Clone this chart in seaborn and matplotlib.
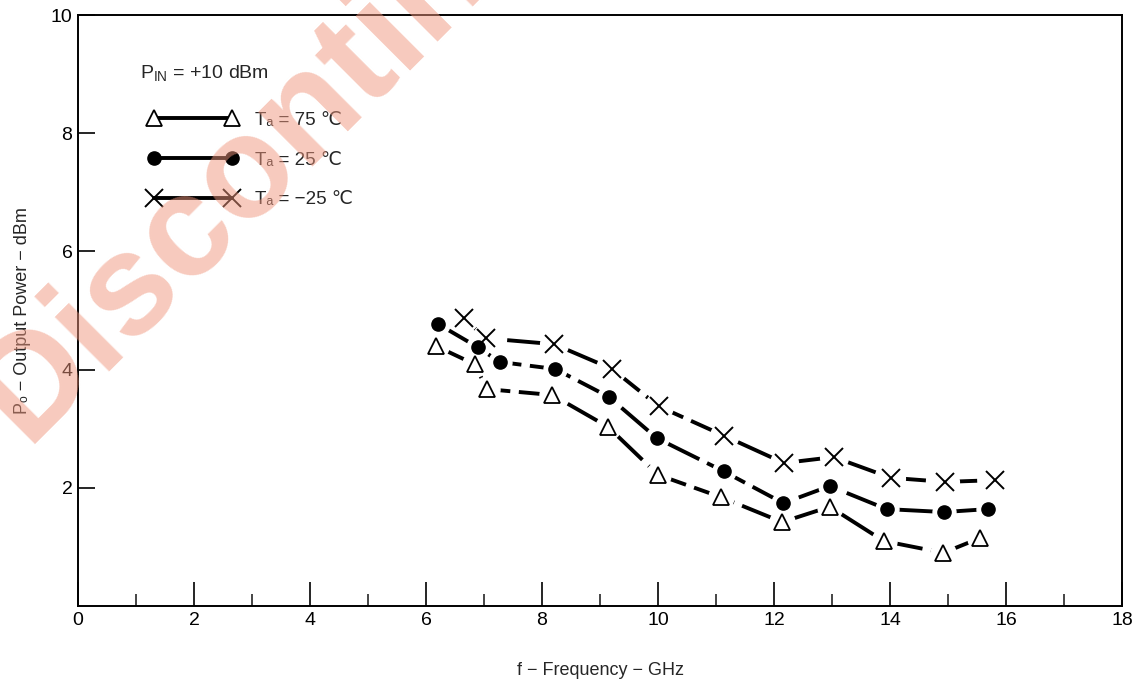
import matplotlib
matplotlib.use("Agg")
import matplotlib.pyplot as plt
from matplotlib.lines import Line2D
from matplotlib.ticker import MultipleLocator
import pandas as pd
import seaborn as sns

# values
freq_75 = [6.17, 6.84, 7.05, 8.18, 9.14, 10.0, 11.09, 12.14, 12.96, 13.89, 14.92, 15.55]
pout_75 = [4.40, 4.09, 3.67, 3.57, 3.03, 2.22, 1.84, 1.42, 1.68, 1.10, 0.90, 1.15]

freq_25 = [6.21, 6.89, 7.27, 8.23, 9.15, 9.98, 11.13, 12.16, 12.96, 13.94, 14.93, 15.69]
pout_25 = [4.77, 4.38, 4.13, 4.01, 3.54, 2.84, 2.28, 1.74, 2.03, 1.64, 1.59, 1.64]

freq_m25 = [6.65, 7.03, 8.21, 9.21, 10.01, 11.14, 12.17, 13.03, 14.01, 14.95, 15.81]
pout_m25 = [4.87, 4.53, 4.43, 4.01, 3.38, 2.88, 2.42, 2.52, 2.17, 2.10, 2.13]

labels = ["T\u2090 = 75 \u2103", "T\u2090 = 25 \u2103", "T\u2090 = \u221225 \u2103"]
x_ticks = list(range(0, 19, 2))
y_ticks = [2, 4, 6, 8, 10]

sns.set_theme(style="white")
fonts = ['Liberation Sans', 'DejaVu Sans', 'Noto Sans CJK JP']
plt.rcParams['font.family'] = fonts
plt.rcParams['mathtext.default'] = 'regular'

fig = plt.figure(figsize=(11.38, 6.85), dpi=100)
ax = fig.add_axes([0.0685, 0.1153, 0.9175, 0.8628])

series = [
    (freq_75, pout_75, '^', 'white', 11, 1.3),
    (freq_25, pout_25, 'o', 'black', 9.5, 1.0),
    (freq_m25, pout_m25, 'x', 'black', 13, 1.4),
]

for fx, py, mk, fc, ms, mew in series:
    df = pd.DataFrame({'f': fx, 'p': py})
    sns.lineplot(data=df, x='f', y='p', ax=ax, color='black', lw=2.8, zorder=2)
    ax.lines[-1].set_dashes((11, 2.2))
    # white halo so the dashed curve stops short of each marker
    ax.plot(df['f'], df['p'], ls='none', marker='o', ms=ms + 7,
            mfc='white', mec='white', zorder=3)
    ax.plot(df['f'], df['p'], ls='none', marker=mk, ms=ms,
            mfc=fc, mec='black', mew=mew, zorder=4)

ax.set_xlim(0, 18)
ax.set_ylim(0, 10)
ax.set_xticks(x_ticks)
ax.xaxis.set_minor_locator(MultipleLocator(1))
ax.set_yticks(y_ticks)
ax.tick_params(axis='x', which='major', direction='in', length=17, width=1.2,
               labelsize=14, pad=4, colors='black', bottom=True)
ax.tick_params(axis='x', which='minor', direction='in', length=9, width=1.2,
               bottom=True)
ax.tick_params(axis='y', which='major', direction='in', length=12, width=1.2,
               labelsize=14, pad=4, colors='black', left=True)
for lab in ax.get_xticklabels():
    lab.set_family(['Liberation Sans Narrow', 'Liberation Sans', 'DejaVu Sans'])

for sp in ax.spines.values():
    sp.set_color('black')
    sp.set_linewidth(1.4)

ax.set_xlabel('f \u2212 Frequency \u2212 GHz', fontsize=13, labelpad=24)
ax.set_ylabel('P\u2092 \u2212 Output Power \u2212 dBm', fontsize=13, labelpad=14)

# key: marker - line - marker, like the printed one
ax.text(0.0594, 0.902, '$P_{IN}$ = +10 dBm', transform=ax.transAxes,
        fontsize=14, ha='left', va='center')
handles = [
    Line2D([], [], color='black', lw=2.8, marker='^', ms=11, mfc='white',
           mec='black', mew=1.3),
    Line2D([], [], color='black', lw=2.8, marker='o', ms=9.5, mfc='black',
           mec='black'),
    Line2D([], [], color='black', lw=2.8, marker='x', ms=13, mec='black',
           mew=1.4),
]
ax.legend(handles, labels, loc='upper left', bbox_to_anchor=(0.060, 0.849),
          numpoints=2, handlelength=4.8, handletextpad=0.9,
          labelspacing=1.21, fontsize=13.5, frameon=False, borderaxespad=0)

# "Discontinued" watermark stamped across the sheet
fig.text(0.022, 0.352, 'Discontinued', rotation=45, rotation_mode='anchor',
         ha='left', va='baseline', fontsize=104, fontweight='bold',
         color='#f0967d', zorder=10, alpha=0.5)

fig.savefig('out.png', dpi=100)
